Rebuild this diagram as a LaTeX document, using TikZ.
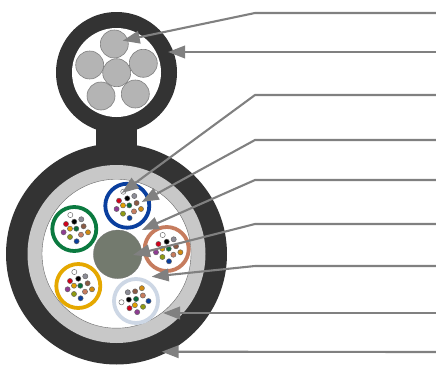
\documentclass[tikz,border=0pt]{standalone}
\usetikzlibrary{arrows.meta}
\definecolor{jacket}{HTML}{333333}
\definecolor{armour}{HTML}{C8C8C8}
\definecolor{strand}{HTML}{B4B4B4}
\definecolor{leader}{HTML}{808080}
\definecolor{coregrey}{HTML}{737A6E}
\definecolor{tubeblue}{HTML}{0A3F9E}
\definecolor{tubegreen}{HTML}{0B7A40}
\definecolor{tubecopper}{HTML}{C67C5E}
\definecolor{tubeyellow}{HTML}{E5A800}
\definecolor{tubepale}{HTML}{CDD7E5}
\definecolor{fbrown}{HTML}{8A5A44}
\definecolor{fpurple}{HTML}{8E3C92}
\definecolor{folive}{HTML}{8E9A12}
\definecolor{fcopper}{HTML}{C67C5E}
\definecolor{forange}{HTML}{D08A10}
\definecolor{fgrey}{HTML}{8C8C96}
\definecolor{fgreen}{HTML}{0B6B3A}
\definecolor{fyellow}{HTML}{E0A000}
\definecolor{fblue}{HTML}{0A3F9E}
\definecolor{fred}{HTML}{D0021B}
\tikzset{
	wire/.style={circle, draw=leader, fill=strand, line width=0.6pt, minimum size=28pt, inner sep=0pt, outer sep=0pt},
	disc/.style={circle, minimum size=#1, inner sep=0pt, outer sep=0pt},
	tube/.style={circle, draw=#1, fill=white, line width=3.8pt, minimum size=44pt, inner sep=0pt, outer sep=0pt},
	fibredot/.style={circle, draw=black!60, line width=0.45pt, minimum size=5.2pt, inner sep=0pt, outer sep=0pt},
	pointer/.style={-{Triangle[length=17pt,width=12.5pt]}, draw=leader, line width=2.1pt},
}
% one set of twelve fibres: name, x, y, turn
\newcommand{\fibreset}[4]{%
	\begin{scope}[shift={(#2,#3)}, rotate=#4]
		\foreach \dx/\dy/\col/\n in {
			-4/-14/white/a, 0/-7.3/black/b, 7/-9.7/fgrey/c, -8.3/-5/fred/d,
			-4.3/-0.3/fyellow/e, 2/-0.3/fgreen/f, 9.3/-2.7/fbrown/g, -10.7/3.3/fpurple/h,
			-4.3/8/folive/i, 6.7/5.7/fcopper/j, 13.7/3.3/forange/k, 2.3/12.3/fblue/l}
			\node[fibredot, fill=\col] (#1\n) at (\dx,\dy) {};
	\end{scope}%
}
\begin{document}
\begin{tikzpicture}[x=1pt, y=-1pt, >=latex]
	\useasboundingbox (0,0) rectangle (436,364);
	
	% Messenger part
	\node[disc=121pt, fill=jacket] (msgjacket) at (116.5,72.5) {};
	\node[disc=89pt, fill=white] (msgbore) at (116.5,72.5) {};
	\node[wire] (wireA) at (114.3,44) {};
	\node[wire] (wireB) at (89.7,65) {};
	\node[wire] (wireC) at (143.3,63.3) {};
	\node[wire] (wireD) at (101,96) {};
	\node[wire] (wireE) at (135.3,94) {};
	\node[wire] (wireF) at (116.7,72.7) {};
	
	% Neck and main jacket
	\node[fill=jacket, minimum width=41pt, minimum height=36pt, inner sep=0pt, outer sep=0pt] (neck) at (116.5,136) {};
	\node[disc=221pt, fill=jacket] (jacketout) at (116.5,254) {};
	\node[disc=178pt, fill=armour] (armourring) at (116.5,254) {};
	\node[disc=149pt, fill=white, draw=black!60, line width=0.4pt] (bore) at (116.5,253.7) {};
	
	% Central member
	\node[disc=48.6pt, fill=coregrey, draw=black!55, line width=0.3pt] (core) at (117.7,254.3) {};
	
	% Loose tubes
	\node[tube=tubeblue] (tubeA) at (127.3,205.7) {};
	\node[tube=tubegreen] (tubeB) at (74.3,229) {};
	\node[tube=tubecopper] (tubeC) at (166.7,249) {};
	\node[tube=tubeyellow] (tubeD) at (78.3,286) {};
	\node[tube=tubepale] (tubeE) at (136,301) {};
	
	% Fibres
	\fibreset{fa}{127.3}{205.7}{0}
	\fibreset{fb}{74.3}{229}{0}
	\fibreset{fc}{166.7}{249}{0}
	\fibreset{fd}{78.3}{286}{0}
	\fibreset{fe}{136}{301}{79}
	
	% Leader ends
	\coordinate (endA) at (436,13);
	\coordinate (endB) at (436,52);
	\coordinate (endC) at (436,95);
	\coordinate (endD) at (436,140);
	\coordinate (endE) at (436,180);
	\coordinate (endF) at (436,224);
	\coordinate (endG) at (436,266);
	\coordinate (endH) at (436,313);
	\coordinate (endI) at (436,352);
	
	\coordinate (tipA) at (122.7,40.7);
	\coordinate (tipB) at (168,52);
	\coordinate (tipC) at (121.7,193);
	\coordinate (tipD) at (141.7,202);
	\coordinate (tipE) at (141.7,230);
	\coordinate (tipF) at (133,255);
	\coordinate (tipG) at (151.7,276.7);
	\coordinate (tipH) at (163,313);
	\coordinate (tipI) at (161.7,351.7);
	
	% Lines
	\draw[pointer] (endA) -- (255,13) -- (tipA);
	\draw[pointer] (endB) -- (tipB);
	\draw[pointer] (endC) -- (255,95) -- (tipC);
	\draw[pointer] (endD) -- (255,140) -- (tipD);
	\draw[pointer] (endE) -- (255,180) -- (tipE);
	\draw[pointer] (endF) -- (255,224) -- (tipF);
	\draw[pointer] (endG) -- (255,266) -- (tipG);
	\draw[pointer] (endH) -- (tipH);
	\draw[pointer] (endI) -- (tipI);
	
\end{tikzpicture}
\end{document}
